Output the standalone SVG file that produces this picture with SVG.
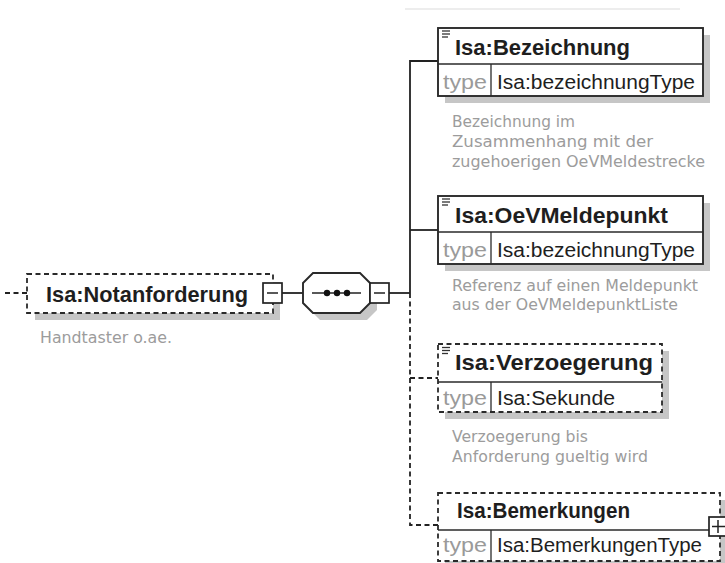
<svg xmlns="http://www.w3.org/2000/svg" width="725" height="563" viewBox="0 0 725 563">
  <defs>
    <style>
      .bg { fill: #ffffff; }
      .shadow { fill: #c6c6c6; stroke: none; }
      .box { fill: #ffffff; stroke: #2a2a2a; stroke-width: 1.9; }
      .opt { fill: #ffffff; stroke: #2a2a2a; stroke-width: 1.8; stroke-dasharray: 5 3.5; }
      .sep { stroke: #2a2a2a; stroke-width: 1.3; fill: none; }
      .sepopt { stroke: #2a2a2a; stroke-width: 1.3; fill: none; }
      .wire { stroke: #222; stroke-width: 1.8; fill: none; }
      .wiredash { stroke: #222; stroke-width: 1.8; fill: none; stroke-dasharray: 5 3.5; }
      .btn { fill: #ffffff; stroke: #222; stroke-width: 1.7; }
      .name { font-family: "Liberation Sans", Arial, sans-serif; font-weight: bold; font-size: 22px; fill: #1e1e1e; }
      .tlabel { font-family: "Liberation Sans", Arial, sans-serif; font-size: 20px; fill: #9a9a9a; }
      .tval { font-family: "Liberation Sans", Arial, sans-serif; font-size: 20px; fill: #1e1e1e; }
      .doc { font-family: "DejaVu Sans", Tahoma, sans-serif; font-size: 15.5px; fill: #9c9c9c; }
      .icon { stroke: #333; stroke-width: 1.3; }
    </style>
  </defs>

  <rect class="bg" x="0" y="0" width="725" height="563"/>

  <!-- header rule -->
  <line x1="405" y1="9" x2="680" y2="9" stroke="#dcdcdc" stroke-width="1.2"/>

  <!-- connectors -->
  <g id="connectors">
    <line class="wiredash" x1="5" y1="293" x2="27" y2="293"/>
    <line class="wire" x1="282" y1="293" x2="303" y2="293"/>
    <line class="wire" x1="389" y1="293" x2="410" y2="293"/>
    <path class="wire" d="M438,61 H410 V293"/>
    <line class="wire" x1="410" y1="230" x2="438" y2="230"/>
    <path class="wiredash" d="M410,293 V525 H438"/>
    <line class="wiredash" x1="410" y1="378" x2="438" y2="378"/>
  </g>

  <!-- root element -->
  <g id="node-notanforderung">
    <rect class="shadow" x="35" y="313" width="245" height="7"/>
    <rect class="shadow" x="273" y="282" width="7" height="31"/>
    <rect class="opt" x="27" y="274" width="246" height="39"/>
    <text class="name" x="46" y="302" textLength="202" lengthAdjust="spacingAndGlyphs">Isa:Notanforderung</text>
    <rect class="btn" x="263" y="283" width="19" height="20"/>
    <line x1="267" y1="293" x2="278" y2="293" stroke="#222" stroke-width="1.5"/>
    <text class="doc" x="40" y="343" textLength="132" lengthAdjust="spacingAndGlyphs">Handtaster o.ae.</text>
  </g>

  <!-- sequence compositor -->
  <g id="node-sequence">
    <polygon class="shadow" points="310,290 320,280 367,280 377,290 377,310 367,320 320,320 310,310"/>
    <polygon class="box" points="303,283 313,273 360,273 370,283 370,303 360,313 313,313 303,303"/>
    <line x1="312" y1="293" x2="361" y2="293" stroke="#222" stroke-width="1.6"/>
    <circle cx="327" cy="293" r="3.2" fill="#111"/>
    <circle cx="337" cy="293" r="3.2" fill="#111"/>
    <circle cx="347" cy="293" r="3.2" fill="#111"/>
    <rect class="btn" x="370" y="283" width="19" height="20"/>
    <line x1="374" y1="293" x2="385" y2="293" stroke="#222" stroke-width="1.5"/>
  </g>

  <!-- Isa:Bezeichnung -->
  <g id="node-bezeichnung">
    <rect class="shadow" x="445" y="35" width="265" height="68"/>
    <rect class="box" x="438" y="28" width="265" height="68"/>
    <line class="sep" x1="438" y1="64" x2="703" y2="64"/>
    <line class="sep" x1="491" y1="64" x2="491" y2="96"/>
    <g class="icon">
      <line x1="442" y1="31" x2="450" y2="31"/>
      <line x1="442" y1="34" x2="450" y2="34"/>
      <line x1="442" y1="37" x2="448" y2="37"/>
    </g>
    <text class="name" x="455" y="55" textLength="175" lengthAdjust="spacingAndGlyphs">Isa:Bezeichnung</text>
    <text class="tlabel" x="443" y="89" textLength="44" lengthAdjust="spacingAndGlyphs">type</text>
    <text class="tval" x="497" y="89" textLength="198" lengthAdjust="spacingAndGlyphs">Isa:bezeichnungType</text>
    <text class="doc" x="452" y="127" textLength="123" lengthAdjust="spacingAndGlyphs">Bezeichnung im</text>
    <text class="doc" x="452" y="147" textLength="201" lengthAdjust="spacingAndGlyphs">Zusammenhang mit der</text>
    <text class="doc" x="452" y="167" textLength="253" lengthAdjust="spacingAndGlyphs">zugehoerigen OeVMeldestrecke</text>
  </g>

  <!-- Isa:OeVMeldepunkt -->
  <g id="node-oevmeldepunkt">
    <rect class="shadow" x="445" y="203" width="265" height="68"/>
    <rect class="box" x="438" y="196" width="265" height="68"/>
    <line class="sep" x1="438" y1="232" x2="703" y2="232"/>
    <line class="sep" x1="491" y1="232" x2="491" y2="264"/>
    <g class="icon">
      <line x1="442" y1="199" x2="450" y2="199"/>
      <line x1="442" y1="202" x2="450" y2="202"/>
      <line x1="442" y1="205" x2="448" y2="205"/>
    </g>
    <text class="name" x="455" y="223" textLength="213" lengthAdjust="spacingAndGlyphs">Isa:OeVMeldepunkt</text>
    <text class="tlabel" x="443" y="257" textLength="44" lengthAdjust="spacingAndGlyphs">type</text>
    <text class="tval" x="497" y="257" textLength="198" lengthAdjust="spacingAndGlyphs">Isa:bezeichnungType</text>
    <text class="doc" x="452" y="291" textLength="246" lengthAdjust="spacingAndGlyphs">Referenz auf einen Meldepunkt</text>
    <text class="doc" x="452" y="310" textLength="226" lengthAdjust="spacingAndGlyphs">aus der OeVMeldepunktListe</text>
  </g>

  <!-- Isa:Verzoegerung (optional) -->
  <g id="node-verzoegerung">
    <rect class="shadow" x="445" y="351" width="224" height="68"/>
    <rect class="opt" x="438" y="344" width="224" height="68"/>
    <line class="sepopt" x1="438" y1="382" x2="662" y2="382"/>
    <line class="sepopt" x1="491" y1="382" x2="491" y2="412"/>
    <g class="icon">
      <line x1="442" y1="347.5" x2="450" y2="347.5"/>
      <line x1="442" y1="350.5" x2="450" y2="350.5"/>
      <line x1="442" y1="353.5" x2="448" y2="353.5"/>
    </g>
    <text class="name" x="455" y="370" textLength="198" lengthAdjust="spacingAndGlyphs">Isa:Verzoegerung</text>
    <text class="tlabel" x="443" y="405" textLength="44" lengthAdjust="spacingAndGlyphs">type</text>
    <text class="tval" x="497" y="405" textLength="118" lengthAdjust="spacingAndGlyphs">Isa:Sekunde</text>
    <text class="doc" x="452" y="442" textLength="136" lengthAdjust="spacingAndGlyphs">Verzoegerung bis</text>
    <text class="doc" x="452" y="462" textLength="196" lengthAdjust="spacingAndGlyphs">Anforderung gueltig wird</text>
  </g>

  <!-- Isa:Bemerkungen (optional, expandable) -->
  <g id="node-bemerkungen">
    <rect class="shadow" x="445" y="500" width="282" height="68"/>
    <rect class="opt" x="438" y="493" width="282" height="68"/>
    <line class="sepopt" x1="438" y1="530" x2="720" y2="530"/>
    <line class="sepopt" x1="491" y1="530" x2="491" y2="561"/>
    <text class="name" x="457" y="518" textLength="173" lengthAdjust="spacingAndGlyphs">Isa:Bemerkungen</text>
    <text class="tlabel" x="443" y="552" textLength="44" lengthAdjust="spacingAndGlyphs">type</text>
    <text class="tval" x="497" y="552" textLength="205" lengthAdjust="spacingAndGlyphs">Isa:BemerkungenType</text>
    <rect class="btn" x="709" y="517" width="18" height="19"/>
    <line x1="712" y1="526.5" x2="725" y2="526.5" stroke="#222" stroke-width="1.5"/>
    <line x1="718" y1="520" x2="718" y2="533" stroke="#222" stroke-width="1.5"/>
  </g>
</svg>
